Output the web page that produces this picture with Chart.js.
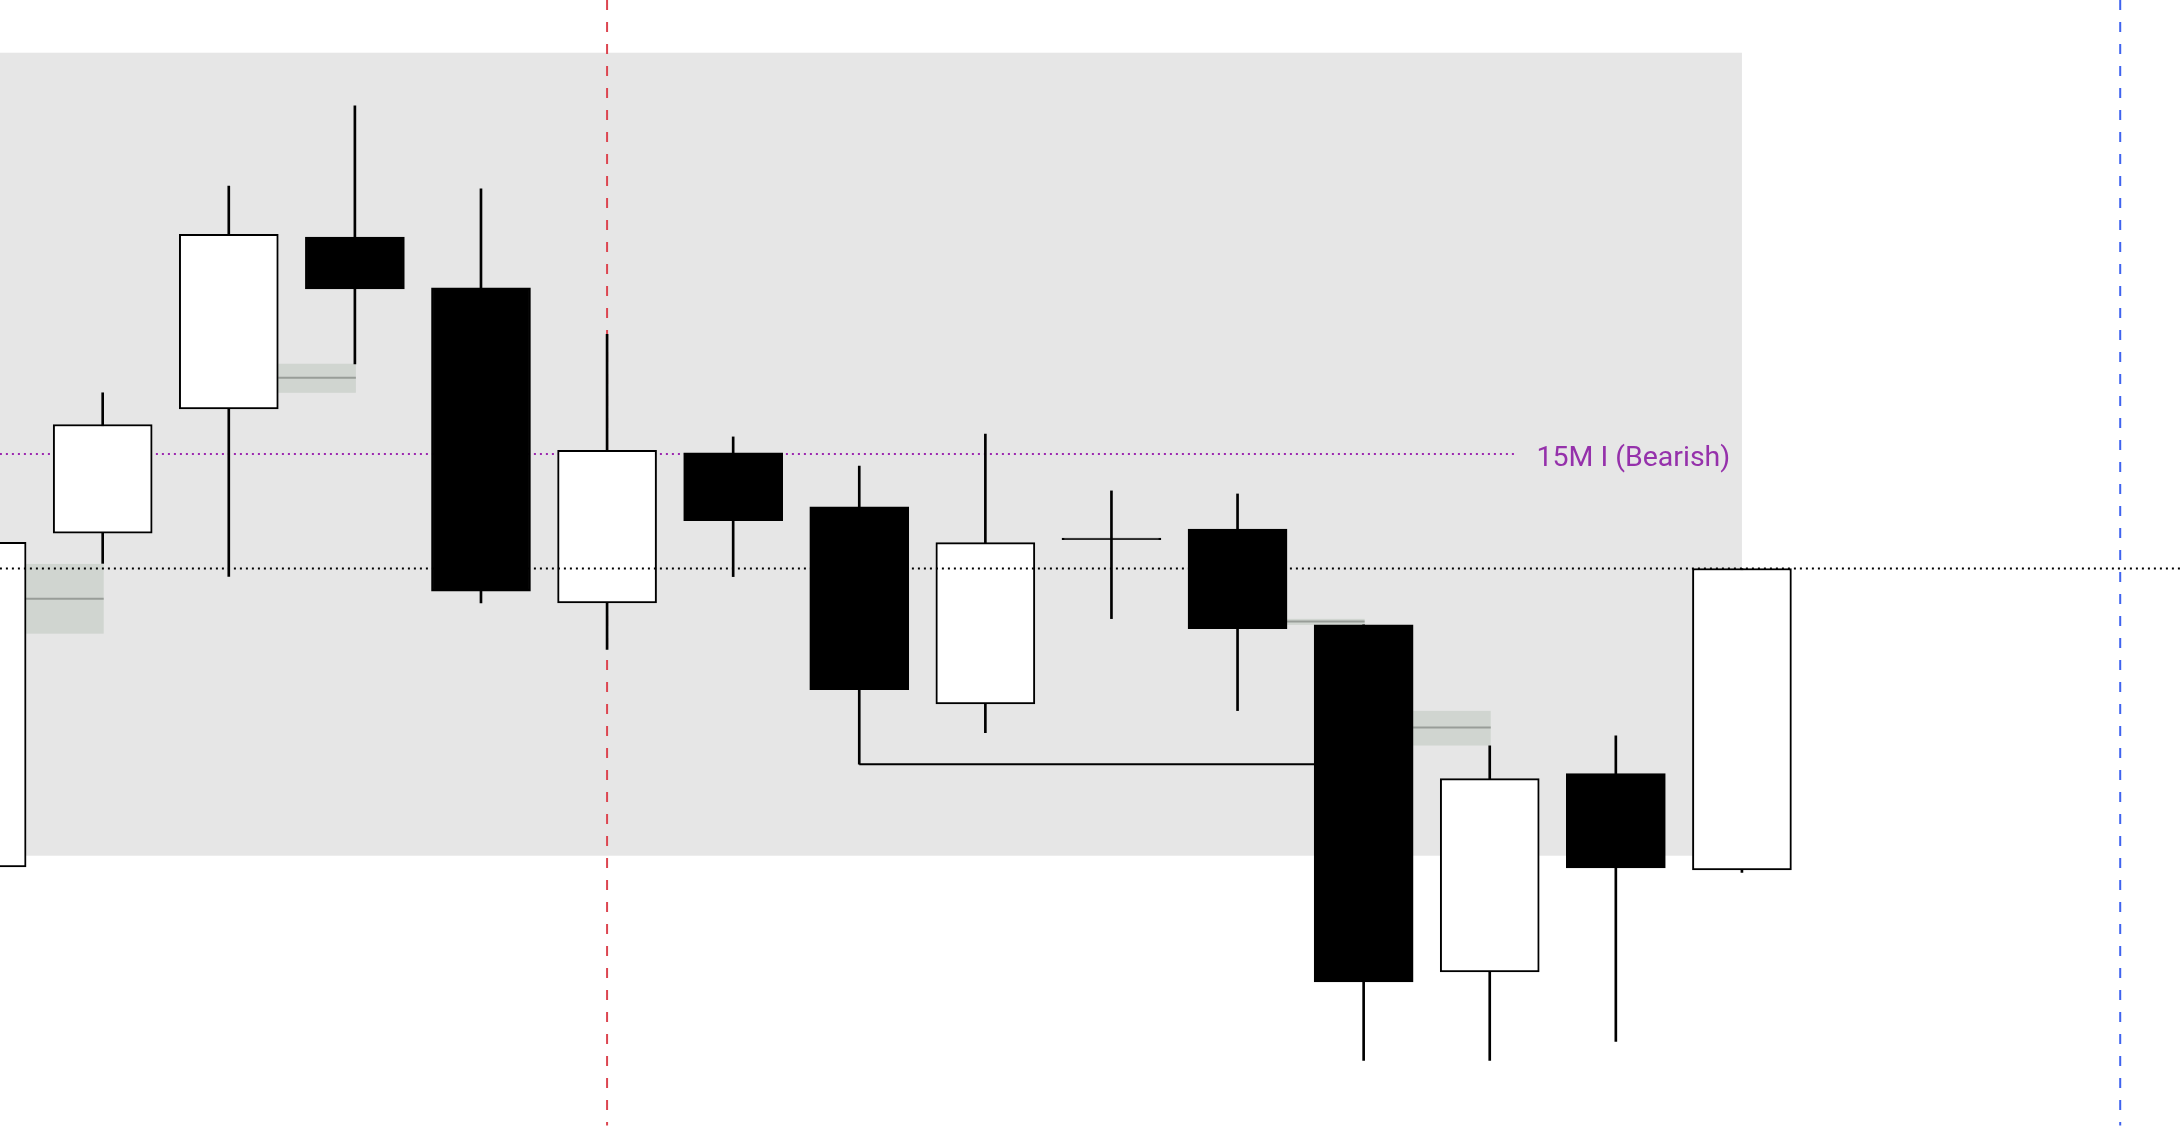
<!DOCTYPE html>
<html lang="en">
<head>
<meta charset="UTF-8">
<title>15M candles</title>
<style>
  html, body { margin: 0; padding: 0; background: #ffffff; overflow: hidden; }
  canvas { display: block; }
</style>
</head>
<body>
<canvas id="grafico" width="2182" height="1134"></canvas>

<script src="https://cdn.jsdelivr.net/npm/chart.js"></script>
<script>
  // candle data (index = bar number on the 15M chart)
  const candleIdx = [0, 1, 2, 3, 4, 5, 6, 7, 8, 9, 10, 11, 12, 13, 14];
  const opens  = [5237.70, 5261.69, 5270.61, 5282.96, 5279.31, 5256.66, 5267.45, 5263.57, 5249.41, 5261.33, 5261.98, 5255.09, 5230.15, 5244.40, 5237.48];
  const closes = [5261.02, 5269.49, 5283.16, 5279.24, 5257.52, 5267.63, 5262.58, 5250.44, 5261.00, 5261.21, 5254.82, 5229.43, 5244.04, 5237.63, 5259.14];
  const highs  = [5261.02, 5271.77, 5286.62, 5292.40, 5286.43, 5275.97, 5268.60, 5266.51, 5268.81, 5264.72, 5264.50, 5255.09, 5246.40, 5247.12, 5259.14];
  const lows   = [5237.70, 5259.51, 5258.58, 5273.85, 5256.66, 5253.32, 5258.56, 5245.08, 5247.35, 5255.54, 5248.93, 5223.78, 5223.78, 5225.15, 5237.30];

  // visible window
  const xRange = [0.1856, 17.49];
  const yRange = [5218.5, 5300];

  // session zone (grey area)
  const zoneX = [0, 14];
  const zoneY = [5238.50, 5296.21];

  // small gaps: starts after candle, ends at next candle centre
  const gapAfter  = [0, 2, 10, 11];
  const gapTop    = [5259.47, 5273.86, 5255.52, 5248.91];
  const gapBottom = [5254.46, 5271.77, 5255.09, 5246.42];
  const gapMid    = [5256.96, 5272.86, 5255.33, 5247.71];

  // levels
  const levelLabel = '15M I (Bearish)';
  const levelPrice = 5267.38;
  const levelEnd = 12.22;
  const levelTextAt = 12.37;
  const lastPrice = closes[closes.length - 1];
  const sweepFrom = 7, sweepTo = 11;
  const redLineAt = 5, blueLineAt = 17;
  const vLineBottom = 5219.11;

  const bodyColors = candleIdx.map(i => closes[i] >= opens[i] ? '#ffffff' : '#000000');

  const zonePlugin = {
    id: 'zones',
    beforeDatasetsDraw(chart) {
      const ctx = chart.ctx;
      const xs = chart.scales.x, ys = chart.scales.y;
      ctx.save();
      ctx.fillStyle = '#e6e6e6';
      let x1 = xs.getPixelForValue(zoneX[0]), x2 = xs.getPixelForValue(zoneX[1]);
      let y1 = ys.getPixelForValue(zoneY[1]), y2 = ys.getPixelForValue(zoneY[0]);
      ctx.fillRect(x1, y1, x2 - x1, y2 - y1);

      const bodies = chart.getDatasetMeta(1).data;
      for (let k = 0; k < gapAfter.length; k++) {
        const b = bodies[gapAfter[k]];
        const left = b.x + b.width / 2;
        const right = xs.getPixelForValue(gapAfter[k] + 1) + 1;
        const top = ys.getPixelForValue(gapTop[k]);
        const bot = ys.getPixelForValue(gapBottom[k]);
        ctx.fillStyle = '#d0d5d0';
        ctx.fillRect(left, top, right - left, bot - top);
        ctx.strokeStyle = '#989d98';
        ctx.lineWidth = 2;
        ctx.beginPath();
        const ym = ys.getPixelForValue(gapMid[k]);
        ctx.moveTo(left, ym);
        ctx.lineTo(right, ym);
        ctx.stroke();
      }
      ctx.restore();
    },
    afterDatasetsDraw(chart) {
      const ctx = chart.ctx;
      const xs = chart.scales.x, ys = chart.scales.y;
      ctx.save();
      ctx.font = '28.5px Roboto';
      ctx.fillStyle = '#9531ab';
      ctx.textAlign = 'left';
      ctx.textBaseline = 'middle';
      ctx.fillText(levelLabel, xs.getPixelForValue(levelTextAt), ys.getPixelForValue(levelPrice) + 5);
      ctx.restore();
    }
  };

  const area = document.getElementById('grafico');

  new Chart(area, {
    type: 'bar',
    data: {
      datasets: [
        {
          label: 'wicks',
          data: candleIdx.map(i => ({ x: i, y: [lows[i], highs[i]] })),
          backgroundColor: '#000000',
          borderWidth: 0,
          barThickness: 2,
          grouped: false,
          order: 30
        },
        {
          label: 'bodies',
          data: candleIdx.map(i => ({ x: i, y: [opens[i], closes[i]] })),
          backgroundColor: bodyColors,
          borderColor: '#000000',
          borderWidth: 2,
          borderSkipped: false,
          barThickness: 99,
          grouped: false,
          order: 20
        },
        {
          type: 'line',
          label: 'red',
          data: [{ x: redLineAt, y: yRange[1] }, { x: redLineAt, y: vLineBottom }],
          borderColor: '#dc4550',
          borderWidth: 2,
          borderDash: [10, 12],
          pointRadius: 0,
          order: 60
        },
        {
          type: 'line',
          label: 'blue',
          data: [{ x: blueLineAt, y: yRange[1] }, { x: blueLineAt, y: vLineBottom }],
          borderColor: '#3f63ef',
          borderWidth: 2,
          borderDash: [10, 12],
          pointRadius: 0,
          order: 60
        },
        {
          type: 'line',
          label: 'level',
          data: [{ x: xRange[0] - 1, y: levelPrice }, { x: levelEnd, y: levelPrice }],
          borderColor: '#9c27b0',
          borderWidth: 2,
          borderDash: [2, 4],
          pointRadius: 0,
          order: 50
        },
        {
          type: 'line',
          label: 'sweep',
          data: [{ x: sweepFrom, y: lows[sweepFrom] }, { x: sweepTo, y: lows[sweepFrom] }],
          borderColor: '#000000',
          borderWidth: 2,
          pointRadius: 0,
          order: 40
        },
        {
          type: 'line',
          label: 'last',
          data: [{ x: xRange[0] - 1, y: lastPrice }, { x: xRange[1] + 1, y: lastPrice }],
          borderColor: '#000000',
          borderWidth: 2,
          borderDash: [2, 4],
          pointRadius: 0,
          order: 10
        }
      ]
    },
    options: {
      responsive: false,
      animation: false,
      devicePixelRatio: 1,
      events: [],
      layout: { padding: 0 },
      plugins: {
        legend: { display: false },
        tooltip: { enabled: false }
      },
      scales: {
        x: {
          type: 'linear',
          min: xRange[0],
          max: xRange[1],
          offset: false,
          display: false,
          ticks: { maxTicksLimit: 4 }
        },
        y: {
          type: 'linear',
          min: yRange[0],
          max: yRange[1],
          display: false
        }
      }
    },
    plugins: [zonePlugin]
  });
</script>
</body>
</html>
